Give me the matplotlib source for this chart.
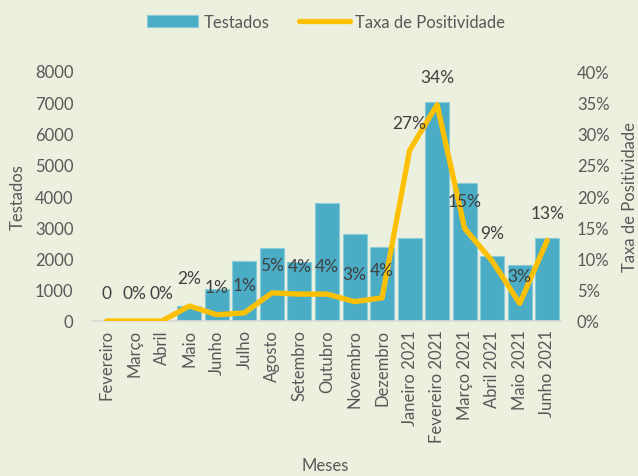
import matplotlib
matplotlib.use("Agg")
import matplotlib.pyplot as plt
from matplotlib.ticker import FuncFormatter, MultipleLocator

plt.rcParams['font.family'] = ['Lato', 'DejaVu Sans']

meses = ["Fevereiro", "Março", "Abril", "Maio", "Junho", "Julho", "Agosto",
         "Setembro", "Outubro", "Novembro", "Dezembro", "Janeiro 2021",
         "Fevereiro 2021", "Março 2021", "Abril 2021", "Maio 2021", "Junho 2021"]
testados = [0, 0, 0, 470, 1020, 1920, 2340, 1900, 3780, 2790, 2370, 2660,
            7000, 4410, 2070, 1800, 2650]
taxa = [0.0, 0.0, 0.0, 2.4, 1.0, 1.3, 4.5, 4.3, 4.3, 3.1, 3.7, 27.3,
        34.6, 14.8, 9.6, 2.8, 12.9]
rotulos = ["0", "0%", "0%", "2%", "1%", "1%", "5%", "4%", "4%", "3%", "4%",
           "27%", "34%", "15%", "9%", "3%", "13%"]

bg = "#EBF1DE"
txt = "#595959"
fs = 12
W, H = 638, 477
L, R, T, B = 93, 561, 72, 322
fig = plt.figure(figsize=(W/100, H/100), dpi=100, facecolor=bg)
ax = fig.add_axes([L/W, 1-B/H, (R-L)/W, (B-T)/H], facecolor=bg)

x = list(range(len(meses)))
bars = ax.bar(x, testados, width=0.87, color="#4BACC6", edgecolor="#8CCBDA",
              linewidth=0.8, label="Testados", zorder=2)
ax.set_xlim(-0.5, len(meses)-0.5)
ax.set_ylim(0, 8000)
ax.yaxis.set_major_locator(MultipleLocator(1000))
ax.set_xticks(x)
ax.set_xticklabels(meses, rotation=90, fontsize=fs, color=txt)
ax.tick_params(axis='both', length=0, labelsize=fs, labelcolor=txt)
ax.tick_params(axis='x', pad=6)
ax.tick_params(axis='y', pad=14)
for s in ["top", "right", "left"]:
    ax.spines[s].set_visible(False)
ax.spines["bottom"].set_color("#D9D9D9")
ax.spines["bottom"].set_linewidth(1.2)
ax.set_ylabel("Testados", fontsize=fs, color=txt)
ax.yaxis.set_label_coords((26-L)/(R-L), 0.5)
ax.set_xlabel("Meses", fontsize=fs, color=txt)
ax.xaxis.set_label_coords((325-L)/(R-L), -(458-B)/(B-T))

ax2 = ax.twinx()
ax2.set_ylim(0, 40)
ax2.yaxis.set_major_locator(MultipleLocator(5))
ax2.yaxis.set_major_formatter(FuncFormatter(lambda v, p: f"{v:.0f}%"))
ax2.tick_params(axis='y', length=0, labelsize=fs, labelcolor=txt, pad=11.5)
for s in ["top", "right", "left", "bottom"]:
    ax2.spines[s].set_visible(False)
line, = ax2.plot(x, taxa, color="#FFC000", linewidth=3.8, solid_capstyle="round",
                 label="Taxa de Positividade", zorder=3)
ax2.set_ylabel("Taxa de Positividade", fontsize=fs, color=txt)
ax2.yaxis.set_label_coords((622-L)/(R-L), 0.5)
for xi, yi, lab in zip(x, taxa, rotulos):
    ax2.annotate(lab, (xi, yi), xytext=(0, 20), textcoords="offset points",
                 ha="center", va="center", fontsize=12.5, color="#404040")

fig.legend(handles=[bars, line], labels=["Testados", "Taxa de Positividade"],
           loc="center", bbox_to_anchor=(326/W, 1-23/H), ncol=2, frameon=False,
           fontsize=fs, labelcolor=txt, handlelength=3.1, handletextpad=0.3,
           columnspacing=1.75)

fig.savefig("out.png", dpi=100, facecolor=bg)
